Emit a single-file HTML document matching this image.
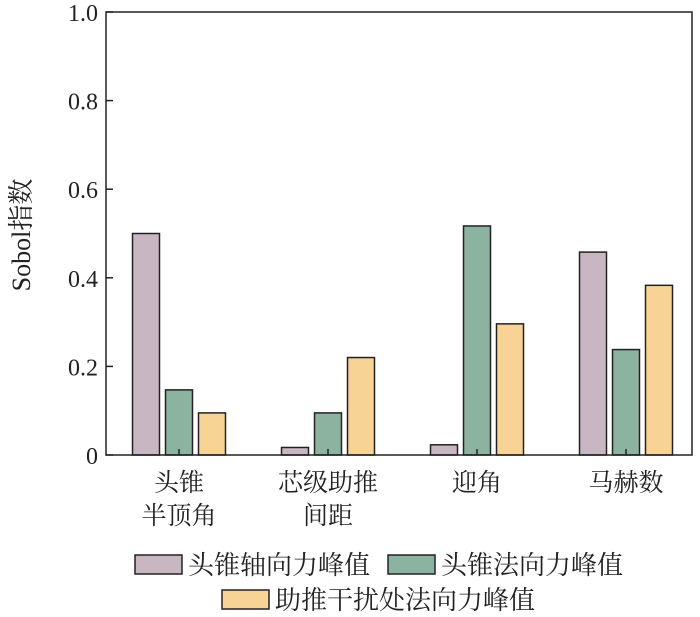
<!DOCTYPE html>
<html><head><meta charset="utf-8"><style>
body{margin:0;background:#fff;}
svg text{font-family:"Liberation Serif","Noto Serif CJK SC",serif;fill:#222;}
</style></head><body>
<svg id="chart" width="700" height="612" xmlns="http://www.w3.org/2000/svg"></svg>
<script>
const categories=[["头锥","半顶角"],["芯级助推","间距"],["迎角"],["马赫数"]];
const seriesNames=["头锥轴向力峰值","头锥法向力峰值","助推干扰处法向力峰值"];
const axialValues=[0.5,0.017,0.023,0.458];
const normalValues=[0.147,0.095,0.517,0.238];
const boosterValues=[0.095,0.22,0.296,0.383];
const yTicks=[0,0.2,0.4,0.6,0.8,1.0];
const yTickLabels=["0","0.2","0.4","0.6","0.8","1.0"];
const colors=["#c9b6c3","#8bb3a0","#f7d396"];
const NS="http://www.w3.org/2000/svg";
const svg=document.getElementById('chart');
const L=106,R=692,T=12,B=455;
const y=v=>B-(B-T)*v;
const xc=i=>179+149*i;
function mk(tag,attrs,parent){const e=document.createElementNS(NS,tag);for(const k in attrs)e.setAttribute(k,attrs[k]);(parent||svg).appendChild(e);return e;}
const series=[axialValues,normalValues,boosterValues];
const bw=27,step=33;
series.forEach((vals,s)=>{vals.forEach((v,i)=>{
 const r=mk('rect',{x:xc(i)+(s-1)*step-bw/2,y:y(v),width:bw,height:B-y(v),fill:colors[s],stroke:'#222','stroke-width':1.5});
 
 
});});
const f=mk('rect',{x:L,y:T,width:R-L,height:B-T,fill:'none',stroke:'#222','stroke-width':1.5});


yTicks.forEach((t,i)=>{
 const ln=mk('line',{x1:L,x2:L+7,y1:y(t),y2:y(t),stroke:'#222','stroke-width':1.5});
 
 
 const tx=mk('text',{x:98,y:y(t)+9,'text-anchor':'end','font-size':24});
 tx.textContent=yTickLabels[i];
 
 
});
categories.forEach((c,i)=>{
 const ln=mk('line',{x1:xc(i),x2:xc(i),y1:B,y2:B-6,stroke:'#222','stroke-width':1.5});
 
 
 c.forEach((s,j)=>{
  const tx=mk('text',{x:xc(i),y:491+j*33,'text-anchor':'middle','font-size':25});
  tx.textContent=s;
  
  
 });
});
const yt=mk('text',{x:0,y:0,'text-anchor':'middle','font-size':26,transform:'translate(30,235) rotate(-90)'});
yt.textContent="Sobol指数";


const legPos=[[135,555],[388,555],[222,590]];
seriesNames.forEach((n,s)=>{
 const [lx,ly]=legPos[s];
 const b=mk('rect',{x:lx,y:ly,width:47,height:19,fill:colors[s],stroke:'#222','stroke-width':1.5});
 
 
 const tx=mk('text',{x:lx+53,y:ly+19,'font-size':26});
 tx.textContent=n;
 
 
});
</script>
</body></html>
